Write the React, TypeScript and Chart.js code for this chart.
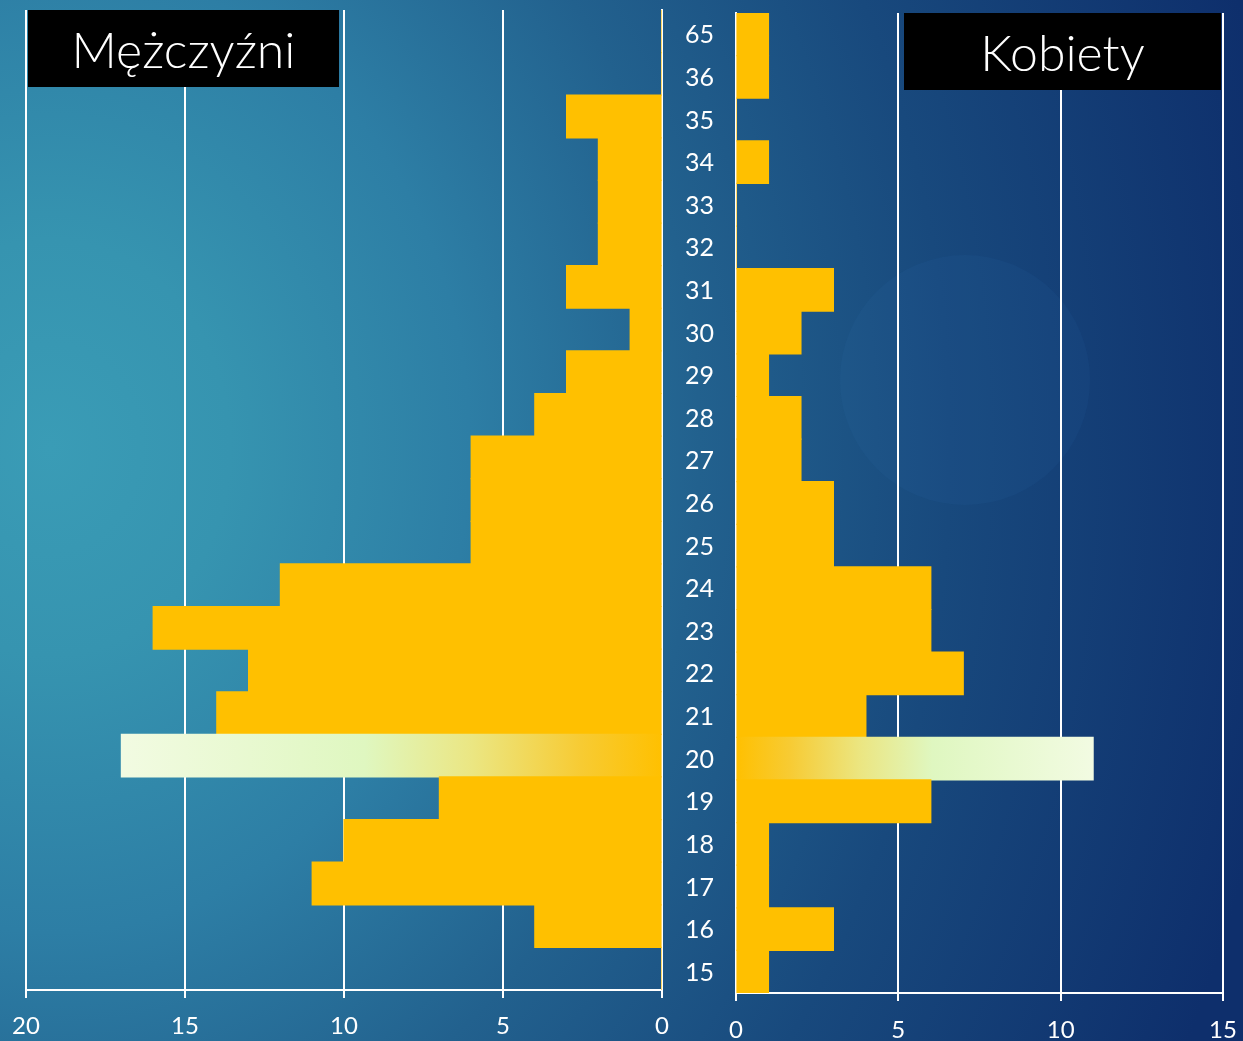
import React, { useEffect, useRef } from "react";
import { Chart, registerables } from "chart.js";

Chart.register(...registerables);

const categories = ["65", "36", "35", "34", "33", "32", "31", "30", "29", "28", "27", "26", "25", "24", "23", "22", "21", "20", "19", "18", "17", "16", "15"];
const menValues = [0, 0, 3, 2, 2, 2, 3, 1, 3, 4, 6, 6, 6, 12, 16, 13, 14, 17, 7, 10, 11, 4, 0];
const womenValues = [1, 1, 0, 1, 0, 0, 3, 2, 1, 2, 2, 3, 3, 6, 6, 7, 4, 11, 6, 1, 1, 3, 1];
const highlightCategory = "20";
const menTitle = "Mężczyźni";
const womenTitle = "Kobiety";
const menAxisMax = 20;
const womenAxisMax = 15;
const tickStep = 5;

const FONT = "Lato, 'DejaVu Sans', sans-serif";
const BAR = "#FFC000";

function barColor(ctx: any, values: number[]) {
  const idx = categories.indexOf(highlightCategory);
  if (ctx.dataIndex !== idx) return BAR;
  const chart = ctx.chart;
  const xs = chart.scales && chart.scales.x;
  if (!chart.chartArea || !xs) return BAR;
  const x0 = xs.getPixelForValue(0);
  const x1 = xs.getPixelForValue(values[idx]);
  const g = chart.ctx.createLinearGradient(x0, 0, x1, 0);
  g.addColorStop(0, "#FFC000");
  g.addColorStop(0.15, "#F7CB33");
  g.addColorStop(0.35, "#EBE682");
  g.addColorStop(0.55, "#DFF7C0");
  g.addColorStop(1, "#F2FBE2");
  return g;
}

export default function App() {
  const leftRef = useRef<HTMLCanvasElement>(null);
  const rightRef = useRef<HTMLCanvasElement>(null);

  useEffect(() => {
    Chart.defaults.font.family = FONT;
    const gridCommon = { color: "#FFFFFF", lineWidth: 2, tickLength: 8, tickWidth: 2, tickColor: "#FFFFFF" };
    const left = new Chart(leftRef.current!, {
      type: "bar",
      data: {
        labels: categories,
        datasets: [{
          data: menValues,
          backgroundColor: (c: any) => barColor(c, menValues),
          borderWidth: 0,
          inflateAmount: 0.6,
          barPercentage: 1,
          categoryPercentage: 1,
        }],
      },
      options: {
        indexAxis: "y",
        animation: false,
        responsive: false,
        layout: { padding: { left: 26, top: 10, right: 0, bottom: 0 } },
        plugins: { legend: { display: false }, tooltip: { enabled: false } },
        scales: {
          x: {
            reverse: true,
            min: 0,
            max: menAxisMax,
            grid: gridCommon as any,
            border: { display: true, color: "#FFFFFF", width: 2 },
            ticks: { stepSize: tickStep, color: "#FFFFFF", font: { size: 24 }, padding: 14, maxRotation: 0, autoSkip: false },
            afterFit: (s: any) => { s.height = 51; s.paddingLeft = 0; s.paddingRight = 0; },
          },
          y: {
            position: "right",
            grid: { display: false, drawTicks: false },
            border: { display: true, color: "#FFFFFF", width: 2 },
            ticks: { color: "#FFFFFF", font: { size: 25 }, crossAlign: "center", padding: 23, labelOffset: 4, autoSkip: false },
            afterFit: (s: any) => { s.width = 74; s.paddingTop = 0; s.paddingBottom = 0; },
          },
        },
      } as any,
    });
    const right = new Chart(rightRef.current!, {
      type: "bar",
      data: {
        labels: categories,
        datasets: [{
          data: womenValues,
          backgroundColor: (c: any) => barColor(c, womenValues),
          borderWidth: 0,
          inflateAmount: 0.6,
          barPercentage: 1,
          categoryPercentage: 1,
        }],
      },
      options: {
        indexAxis: "y",
        animation: false,
        responsive: false,
        layout: { padding: { left: 36, top: 13, right: 20, bottom: 0 } },
        plugins: { legend: { display: false }, tooltip: { enabled: false } },
        scales: {
          x: {
            min: 0,
            max: womenAxisMax,
            grid: gridCommon as any,
            border: { display: true, color: "#FFFFFF", width: 2 },
            ticks: { stepSize: tickStep, color: "#FFFFFF", font: { size: 24 }, padding: 15, maxRotation: 0, autoSkip: false },
            afterFit: (s: any) => { s.height = 48; s.paddingLeft = 0; s.paddingRight = 0; },
          },
          y: {
            position: "left",
            grid: { display: false, drawTicks: false },
            border: { display: true, color: "#FFFFFF", width: 2 },
            ticks: { display: false },
            afterFit: (s: any) => { s.width = 0; s.paddingTop = 0; s.paddingBottom = 0; },
          },
        },
      } as any,
    });
    return () => { left.destroy(); right.destroy(); };
  }, []);

  const boxStyle: React.CSSProperties = {
    position: "absolute",
    background: "#000000",
    color: "#FFFFFF",
    fontFamily: FONT,
    fontSize: 50,
    fontWeight: 300,
    display: "flex",
    alignItems: "center",
    justifyContent: "center",
    lineHeight: 1,
    zIndex: 2,
  };

  return (
    <div
      style={{
        position: "fixed",
        left: 0,
        top: 0,
        width: 1243,
        height: 1041,
        overflow: "hidden",
        background:
          "radial-gradient(ellipse 1300px 1500px at 4% 43%, #3a9cb6 0px, #3694b0 180px, #2d7ea5 420px, #22618e 650px, #18497d 900px, #0e2f6c 1250px)",
      }}
    >
      <div
        style={{
          position: "absolute",
          left: 840,
          top: 255,
          width: 250,
          height: 250,
          borderRadius: "50%",
          background: "rgba(50,130,200,0.07)",
        }}
      />
      <canvas ref={leftRef} width={736} height={1041} style={{ position: "absolute", left: 0, top: 0, width: 736, height: 1041 }} />
      <canvas ref={rightRef} width={543} height={1041} style={{ position: "absolute", left: 700, top: 0, width: 543, height: 1041 }} />
      <div style={{ ...boxStyle, left: 28, top: 10, width: 311, height: 77 }}>{menTitle}</div>
      <div style={{ ...boxStyle, left: 904, top: 13, width: 317, height: 77 }}>{womenTitle}</div>
    </div>
  );
}
